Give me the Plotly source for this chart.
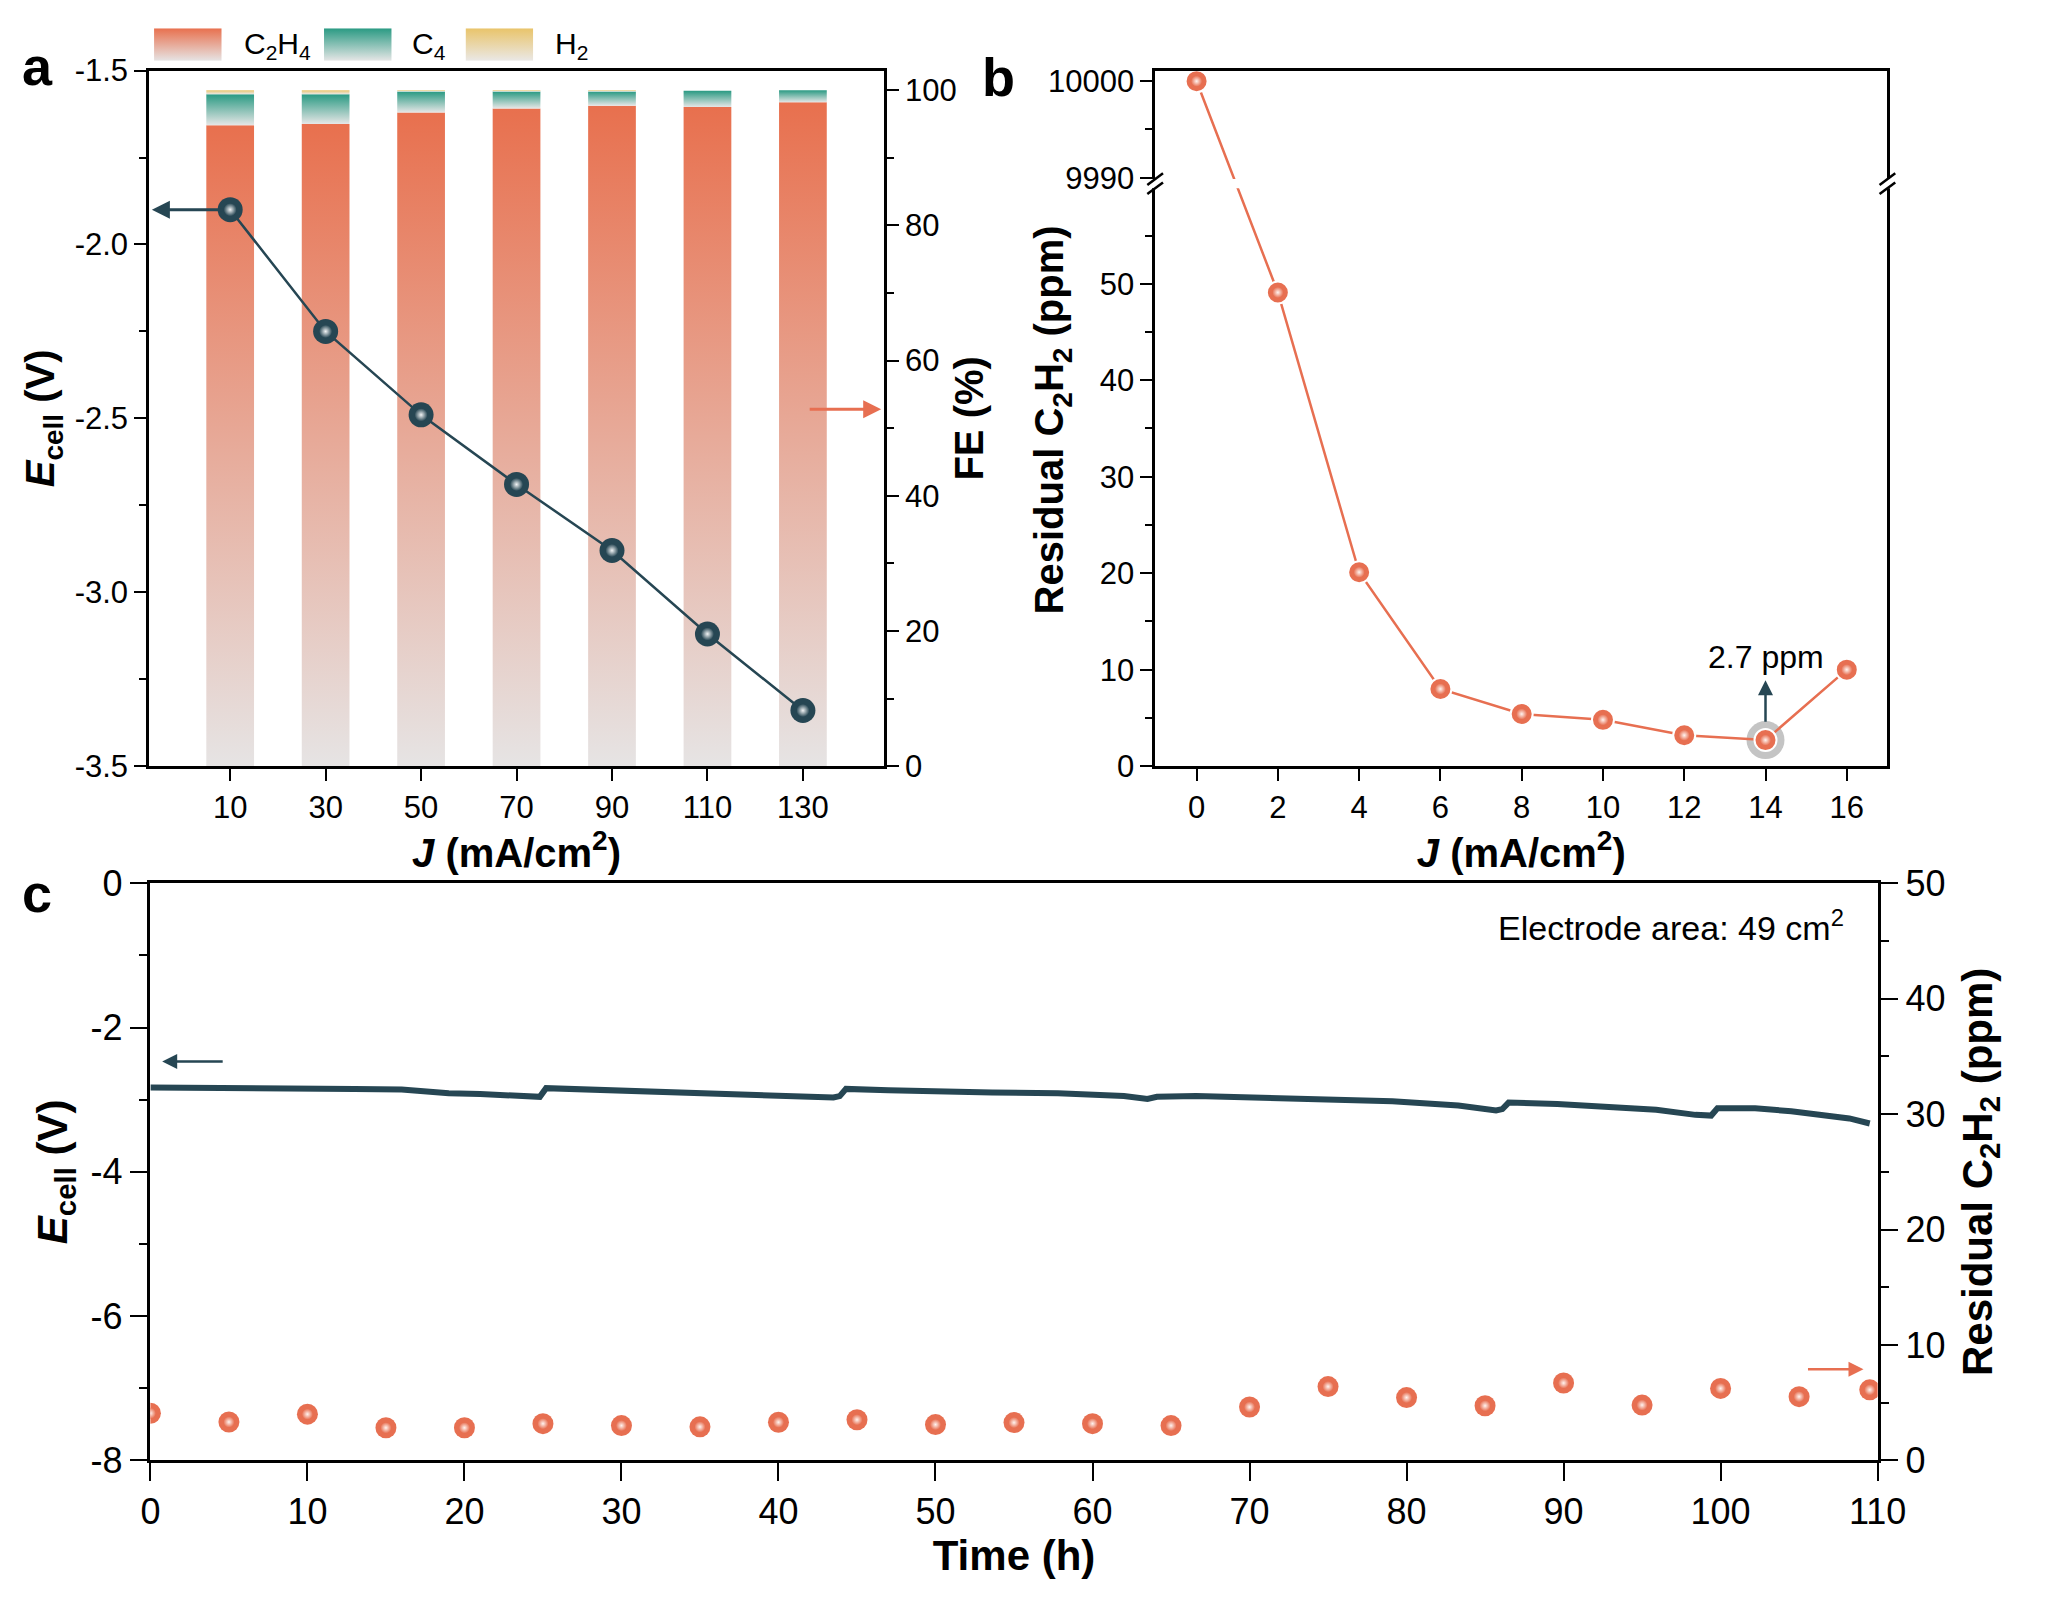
import base64
import plotly.graph_objects as go

PAGE_W, PAGE_H = 2048, 1604
OFF = 8
W, H = PAGE_W - 2 * OFF, PAGE_H - 2 * OFF

# ---------------- data ----------------
current_a = [10, 30, 50, 70, 90, 110, 130]
fe_c2h4 = [94.8, 95.0, 96.7, 97.3, 97.7, 97.5, 98.2]
fe_c4 = [4.6, 4.4, 3.1, 2.5, 2.1, 2.4, 1.8]
fe_h2 = [0.6, 0.6, 0.2, 0.2, 0.2, 0.1, 0.05]
ecell_a = [-1.90, -2.25, -2.49, -2.69, -2.88, -3.12, -3.34]
ecell_a_ticks = [-3.5, -3.0, -2.5, -2.0, -1.5]
fe_ticks = [0, 20, 40, 60, 80, 100]

current_b = [0, 2, 4, 6, 8, 10, 12, 14, 16]
residual_b = [10000, 49.1, 20.1, 8.0, 5.4, 4.8, 3.2, 2.7, 10.0]
b_low_ticks = [0, 10, 20, 30, 40, 50]
b_high_ticks = [9990, 10000]

time_e = [0, 3, 7, 10, 13, 16, 17.7, 19, 21, 23, 24.4, 24.8, 25.2, 28, 31, 35, 38, 41,
          43.5, 43.9, 44.3, 47, 50, 53.6, 57.8, 62.0, 63.5, 64.1, 66.6, 70.8, 75.0,
          79.1, 83.3, 85.7, 86.1, 86.5, 89.6, 93.8, 95.9, 98.4, 99.4, 99.8, 102.2,
          104.5, 106.4, 108.2, 109.5]
ecell_c = [-2.83, -2.83, -2.84, -2.845, -2.85, -2.86, -2.90, -2.91, -2.92, -2.94,
           -2.97, -2.96, -2.84, -2.86, -2.88, -2.91, -2.95, -2.96, -2.97, -2.95,
           -2.85, -2.87, -2.89, -2.90, -2.91, -2.95, -2.99, -2.96, -2.95, -2.97,
           -2.99, -3.02, -3.08, -3.15, -3.13, -3.04, -3.06, -3.10, -3.14, -3.21,
           -3.22, -3.12, -3.12, -3.16, -3.22, -3.26, -3.33]
time_r = [0, 5, 10, 15, 20, 25, 30, 35, 40, 45, 50, 55, 60, 65, 70, 75, 80, 85, 90,
          95, 100, 105, 109.5]
residual_c = [4.08, 3.32, 4.0, 2.82, 2.82, 3.18, 3.01, 2.90, 3.30, 3.52, 3.10, 3.27,
              3.18, 3.01, 4.62, 6.39, 5.44, 4.73, 6.70, 4.79, 6.23, 5.52, 6.11]
ecell_c_ticks = [-8, -6, -4, -2, 0]

products = ["C<sub>2</sub>H<sub>4</sub>", "C<sub>4</sub>", "H<sub>2</sub>"]
fe_values = [fe_c2h4, fe_c4, fe_h2]

# ---------------- styles ----------------
DARK = "#264653"
ORANGE = "#E76F51"
prod_top = ["#E8704E", "#2A9A83", "#E9C46A"]
prod_bottom = ["#E6E4E4", "#E6E6E6", "#EAE8E6"]
BAR_W = 10
FONT = "Arial, 'Liberation Sans', Helvetica, sans-serif"
TICKF_AB = dict(family=FONT, size=31, color="black")
TICKF_C = dict(family=FONT, size=36, color="black")
TITLEF = dict(family=FONT, size=40, color="black")
TITLEF_C = dict(family=FONT, size=42, color="black")


def px(x):
    return (x - OFF) / W


def py(y):
    return 1 - (y - OFF) / H


def lab(v, fmt):
    return format(v, fmt).replace("\u2212", "-")


A_L, A_R, TOP, BOT = 141.6, 891.0, 51.7, 765.7
B_L, B_R = 1167.4, 1914.0
C_L, C_R, C_T, C_B = 143.0, 1904.0, 886.0, 1478.3

B_SHIFT = 9990 - 61.0
B_RANGE = [0, 72.1]
B_GAP = [59.9, 60.85]


def bmap(v):
    return v - B_SHIFT if v >= 9000 else v


fig = go.Figure()

# panel a: stacked Faradaic efficiency bars with vertical gradients
for p, (name, vals) in enumerate(zip(products, fe_values)):
    for i, xc in enumerate(current_a):
        base = sum(fe_values[q][i] for q in range(p))
        top = base + vals[i]
        fig.add_trace(go.Scatter(
            x=[xc - BAR_W / 2, xc + BAR_W / 2, xc + BAR_W / 2, xc - BAR_W / 2, xc - BAR_W / 2],
            y=[base, base, top, top, base],
            xaxis="x", yaxis="y", mode="lines", line=dict(width=0),
            fill="toself",
            fillgradient=dict(type="vertical",
                              colorscale=[[0, prod_bottom[p]], [1, prod_top[p]]]),
            name=name, legendgroup=name, showlegend=False, hoverinfo="skip"))

# panel a: cell voltage
fig.add_trace(go.Scatter(
    x=current_a, y=ecell_a, xaxis="x", yaxis="y2", mode="lines+markers",
    line=dict(color=DARK, width=2.5),
    marker=dict(size=25, color=DARK, line=dict(width=0)), showlegend=False))
fig.add_trace(go.Scatter(
    x=current_a, y=ecell_a, xaxis="x", yaxis="y2", mode="markers",
    marker=dict(size=13, color=DARK, gradient=dict(type="radial", color="#F2F4F5")),
    showlegend=False, hoverinfo="skip"))

# panel b: residual acetylene vs current density (broken y axis)
yb = [bmap(v) for v in residual_b]
i14 = current_b.index(14)
fig.add_trace(go.Scatter(
    x=[current_b[i14]], y=[yb[i14]], xaxis="x2", yaxis="y3", mode="markers",
    marker=dict(size=38, color="#C4C4C4"), showlegend=False, hoverinfo="skip"))
fig.add_trace(go.Scatter(
    x=current_b, y=yb, xaxis="x2", yaxis="y3", mode="lines+markers",
    line=dict(color=ORANGE, width=2.5),
    marker=dict(size=22, color=ORANGE, line=dict(color="white", width=2)),
    showlegend=False, cliponaxis=False))
fig.add_trace(go.Scatter(
    x=current_b, y=yb, xaxis="x2", yaxis="y3", mode="markers",
    marker=dict(size=11, color=ORANGE, gradient=dict(type="radial", color="#FFF4F0")),
    showlegend=False, hoverinfo="skip", cliponaxis=False))

# panel c: stability test
fig.add_trace(go.Scatter(
    x=time_e, y=ecell_c, xaxis="x3", yaxis="y4", mode="lines",
    line=dict(color=DARK, width=6), showlegend=False))
fig.add_trace(go.Scatter(
    x=time_r, y=residual_c, xaxis="x3", yaxis="y5", mode="markers",
    marker=dict(size=21, color=ORANGE), showlegend=False))
fig.add_trace(go.Scatter(
    x=time_r, y=residual_c, xaxis="x3", yaxis="y5", mode="markers",
    marker=dict(size=11, color=ORANGE, gradient=dict(type="radial", color="#FFF4F0")),
    showlegend=False, hoverinfo="skip"))

ax_ab = dict(showline=True, linecolor="black", linewidth=2.5, ticks="outside",
             ticklen=12, tickwidth=2, tickcolor="black", showgrid=False,
             zeroline=False, tickfont=TICKF_AB)
ax_c = dict(ax_ab, ticklen=18, tickfont=TICKF_C)
minor_ab = dict(ticks="outside", ticklen=7, tickwidth=2, tickcolor="black", showgrid=False)
minor_c = dict(minor_ab, ticklen=9)

fig.update_layout(
    width=W, height=H, margin=dict(l=0, r=0, t=0, b=0),
    paper_bgcolor="white", plot_bgcolor="rgba(0,0,0,0)", showlegend=False,
    font=dict(family=FONT, color="black"),
    xaxis=dict(domain=[px(A_L), px(A_R)], range=[-7, 147], tickvals=current_a,
               anchor="y", mirror=True,
               title=dict(text="<b><i>J</i> (mA/cm<sup>2</sup>)</b>", font=TITLEF, standoff=6),
               **ax_ab),
    yaxis=dict(domain=[py(BOT), py(TOP)], range=[0, 102.9], side="right", anchor="x",
               tickvals=fe_ticks, minor=dict(dtick=10, **minor_ab),
               title=dict(text="<b>FE (%)</b>", font=TITLEF, standoff=0),
               **ax_ab),
    yaxis2=dict(overlaying="y", side="left", anchor="x", range=[-3.5, -1.5],
                tickvals=ecell_a_ticks, ticktext=[lab(v, ".1f") for v in ecell_a_ticks],
                minor=dict(dtick=0.25, **minor_ab),
                title=dict(text="<b><i>E</i><sub>cell</sub> (V)</b>", font=TITLEF, standoff=8),
                **ax_ab),
    xaxis2=dict(domain=[px(B_L), px(B_R)], range=[-1.02, 17.0], dtick=2, anchor="y3",
                mirror=True,
                title=dict(text="<b><i>J</i> (mA/cm<sup>2</sup>)</b>", font=TITLEF, standoff=6),
                **ax_ab),
    yaxis3=dict(domain=[py(BOT), py(TOP)], range=B_RANGE, anchor="x2", mirror=True,
                tickvals=b_low_ticks + [bmap(v) for v in b_high_ticks],
                ticktext=[str(v) for v in b_low_ticks + b_high_ticks],
                minor=dict(tickvals=[5, 15, 25, 35, 45, 55, bmap(9995)], **minor_ab),
                **ax_ab),
    xaxis3=dict(domain=[px(C_L), px(C_R)], range=[0, 110], dtick=10, anchor="y4",
                mirror=True,
                title=dict(text="<b>Time (h)</b>", font=TITLEF_C, standoff=2),
                **ax_c),
    yaxis4=dict(domain=[py(C_B), py(C_T)], range=[-8, 0], anchor="x3",
                tickvals=ecell_c_ticks, ticktext=[lab(v, "d") for v in ecell_c_ticks],
                minor=dict(dtick=1, **minor_c),
                title=dict(text="<b><i>E</i><sub>cell</sub> (V)</b>", font=TITLEF_C, standoff=10),
                **ax_c),
    yaxis5=dict(overlaying="y4", side="right", anchor="x3", range=[0, 50], dtick=10,
                minor=dict(dtick=5, **minor_c),
                title=dict(text="<b>Residual C<sub>2</sub>H<sub>2</sub> (ppm)</b>",
                           font=TITLEF_C, standoff=18),
                **ax_c),
)

ann = []
for lb, x, y in [("a", 28, 47), ("b", 1008, 58), ("c", 27, 896)]:
    ann.append(dict(text=f"<b>{lb}</b>", x=px(x), y=py(y), xref="paper", yref="paper",
                    showarrow=False, xanchor="center", yanchor="middle",
                    font=dict(family=FONT, size=54, color="black")))
ann.append(dict(text="<b>Residual C<sub>2</sub>H<sub>2</sub> (ppm)</b>", x=px(1062), y=py(410),
                xref="paper", yref="paper", showarrow=False, textangle=-90,
                xanchor="center", yanchor="middle", font=TITLEF))
ann.append(dict(x=-6.4, y=ecell_a[0], xref="x", yref="y2", ax=72, ay=0, text="",
                showarrow=True, arrowhead=2, arrowsize=1.2, arrowwidth=3, arrowcolor=DARK,
                standoff=0, startstandoff=0))
ann.append(dict(x=146.4, y=52.8, xref="x", yref="y", ax=-73, ay=0, text="",
                showarrow=True, arrowhead=2, arrowsize=1.2, arrowwidth=3, arrowcolor=ORANGE,
                standoff=0, startstandoff=0))
ann.append(dict(x=14, y=8.9, xref="x2", yref="y3", ax=14, ay=4.45, axref="x2", ayref="y3",
                text="", showarrow=True, arrowhead=2, arrowsize=1.2, arrowwidth=2.5,
                arrowcolor=DARK, standoff=0, startstandoff=0))
ann.append(dict(x=14, y=11.3, xref="x2", yref="y3", text="2.7 ppm", showarrow=False,
                xanchor="center", yanchor="middle",
                font=dict(family=FONT, size=32, color="black")))
ann.append(dict(x=0.75, y=-2.47, xref="x3", yref="y4", ax=62, ay=0, text="",
                showarrow=True, arrowhead=2, arrowsize=1.2, arrowwidth=2.5, arrowcolor=DARK,
                standoff=0, startstandoff=0))
ann.append(dict(x=109.1, y=7.9, xref="x3", yref="y5", ax=-57, ay=0, text="",
                showarrow=True, arrowhead=2, arrowsize=1.2, arrowwidth=2.5, arrowcolor=ORANGE,
                standoff=0, startstandoff=0))
ann.append(dict(x=108, y=-0.58, xref="x3", yref="y4", text="Electrode area: 49 cm<sup>2</sup>",
                showarrow=False, xanchor="right", yanchor="middle",
                font=dict(family=FONT, size=34, color="black")))

# legend: gradient swatches + labels
images = []
sw_x = [146.7, 320.0, 464.3]
lab_x = [236, 408, 553]
SW_W, SW_H, SW_T = 69, 33.4, 8.3
for p in range(3):
    svg = ('<svg xmlns="http://www.w3.org/2000/svg" width="69" height="34">'
           '<defs><linearGradient id="g" x1="0" y1="0" x2="0" y2="1">'
           f'<stop offset="0" stop-color="{prod_top[p]}"/>'
           f'<stop offset="1" stop-color="{prod_bottom[p]}"/>'
           '</linearGradient></defs><rect width="69" height="34" fill="url(#g)"/></svg>')
    src = "data:image/svg+xml;base64," + base64.b64encode(svg.encode()).decode()
    images.append(dict(source=src, xref="paper", yref="paper", x=px(sw_x[p]), y=py(SW_T),
                       sizex=SW_W / W, sizey=SW_H / H, sizing="stretch",
                       xanchor="left", yanchor="top", layer="above"))
    ann.append(dict(text=products[p], x=px(lab_x[p]), y=py(26), xref="paper", yref="paper",
                    showarrow=False, xanchor="left", yanchor="middle",
                    font=dict(family=FONT, size=30, color="black")))


def b_py(v):
    d0, d1 = py(BOT), py(TOP)
    return d0 + (v - B_RANGE[0]) / (B_RANGE[1] - B_RANGE[0]) * (d1 - d0)


# axis break in panel b
shapes = [dict(type="rect", xref="paper", yref="paper", x0=px(B_L - 5), x1=px(B_R + 5),
               y0=b_py(B_GAP[0]), y1=b_py(B_GAP[1]), fillcolor="white",
               line=dict(width=0), layer="above")]
for xa in (B_L, B_R):
    for v in B_GAP:
        yc = b_py(v)
        shapes.append(dict(type="line", xref="paper", yref="paper",
                           x0=px(xa - 8), x1=px(xa + 8), y0=yc - 6 / H, y1=yc + 6 / H,
                           line=dict(color="black", width=2.5), layer="above"))

fig.update_layout(annotations=ann, images=images, shapes=shapes)

fig.write_html("out.html")
